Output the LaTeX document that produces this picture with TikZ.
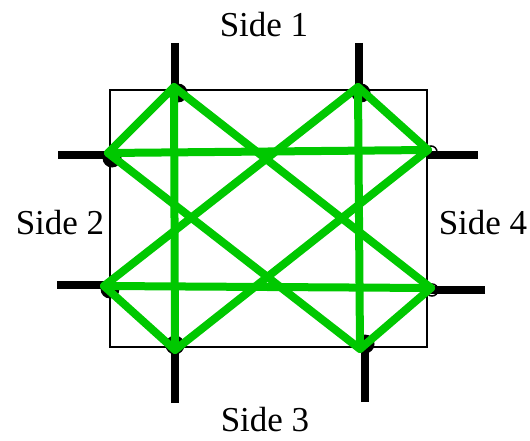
\documentclass[tikz,border=0pt]{standalone}
\usepackage{fontspec}
\setmainfont{Liberation Serif}
\definecolor{wiregreen}{RGB}{0,200,0}
\tikzset{
  stub/.style={line width=8.5pt},
  link/.style={wiregreen, line width=8pt, line cap=round, line join=round},
  side/.style={anchor=base, inner sep=0pt, font=\fontsize{35}{40}\selectfont},
  port/.style={circle, fill=black, inner sep=0pt, minimum size=19pt}
}
\begin{document}
\begin{tikzpicture}[x=1pt,y=-1pt]
\useasboundingbox (0,0) rectangle (530,441);
% box
\draw[line width=2pt] (110,90) rectangle (427,347);
% ports on the box
\coordinate (a) at (174,87);
\coordinate (b) at (358,87);
\coordinate (c) at (108,153);
\coordinate (d) at (104,286);
\coordinate (e) at (428,150);
\coordinate (f) at (431,288);
\coordinate (g) at (175,350);
\coordinate (h) at (360,349);
% stubs, inner end on the box, outer end free
\coordinate (a1) at (175,92);  \coordinate (a0) at (175,43);
\coordinate (b1) at (359,92);  \coordinate (b0) at (359,43);
\coordinate (c1) at (110,155); \coordinate (c0) at (58,155);
\coordinate (d1) at (110,285); \coordinate (d0) at (57,285);
\coordinate (e1) at (427,155); \coordinate (e0) at (478,155);
\coordinate (f1) at (427,290); \coordinate (f0) at (485,290);
\coordinate (g1) at (175,345); \coordinate (g0) at (175,403);
\coordinate (h1) at (365,345); \coordinate (h0) at (365,402);
\draw[stub] (a0) -- (a1);
\draw[stub] (b0) -- (b1);
\draw[stub] (c0) -- (c1);
\draw[stub] (d0) -- (d1);
\draw[stub] (e0) -- (e1);
\draw[stub] (f0) -- (f1);
\draw[stub] (g0) -- (g1);
\draw[stub] (h0) -- (h1);
\node[port] (pa) at (178,93) {};
\node[port] (pb) at (361,93) {};
\node[port] (pc) at (112,158) {};
\node[port] (pd) at (110,289) {};
\node[port] (pg) at (175,345) {};
\node[port] (ph) at (365,344) {};
\draw[line width=1.5pt] (431,152) circle (6pt);
\draw[line width=1.5pt] (432,290) circle (6pt);
% green links
\draw[link] (a) -- (c);
\draw[link] (a) -- (g);
\draw[link] (a) -- (f);
\draw[link] (b) -- (d);
\draw[link] (b) -- (e);
\draw[link] (b) -- (h);
\draw[link] (c) -- (e);
\draw[link] (d) -- (f);
\draw[link] (c) -- (h);
\draw[link] (e) -- (g);
\draw[link] (d) -- (g);
\draw[link] (f) -- (h);
% labels
\node[side] (s1) at (264,37) {Side 1};
\node[side] (s2) at (60,234) {Side 2};
\node[side] (s3) at (265,431) {Side 3};
\node[side] (s4) at (483,234) {Side 4};
\end{tikzpicture}
\end{document}
